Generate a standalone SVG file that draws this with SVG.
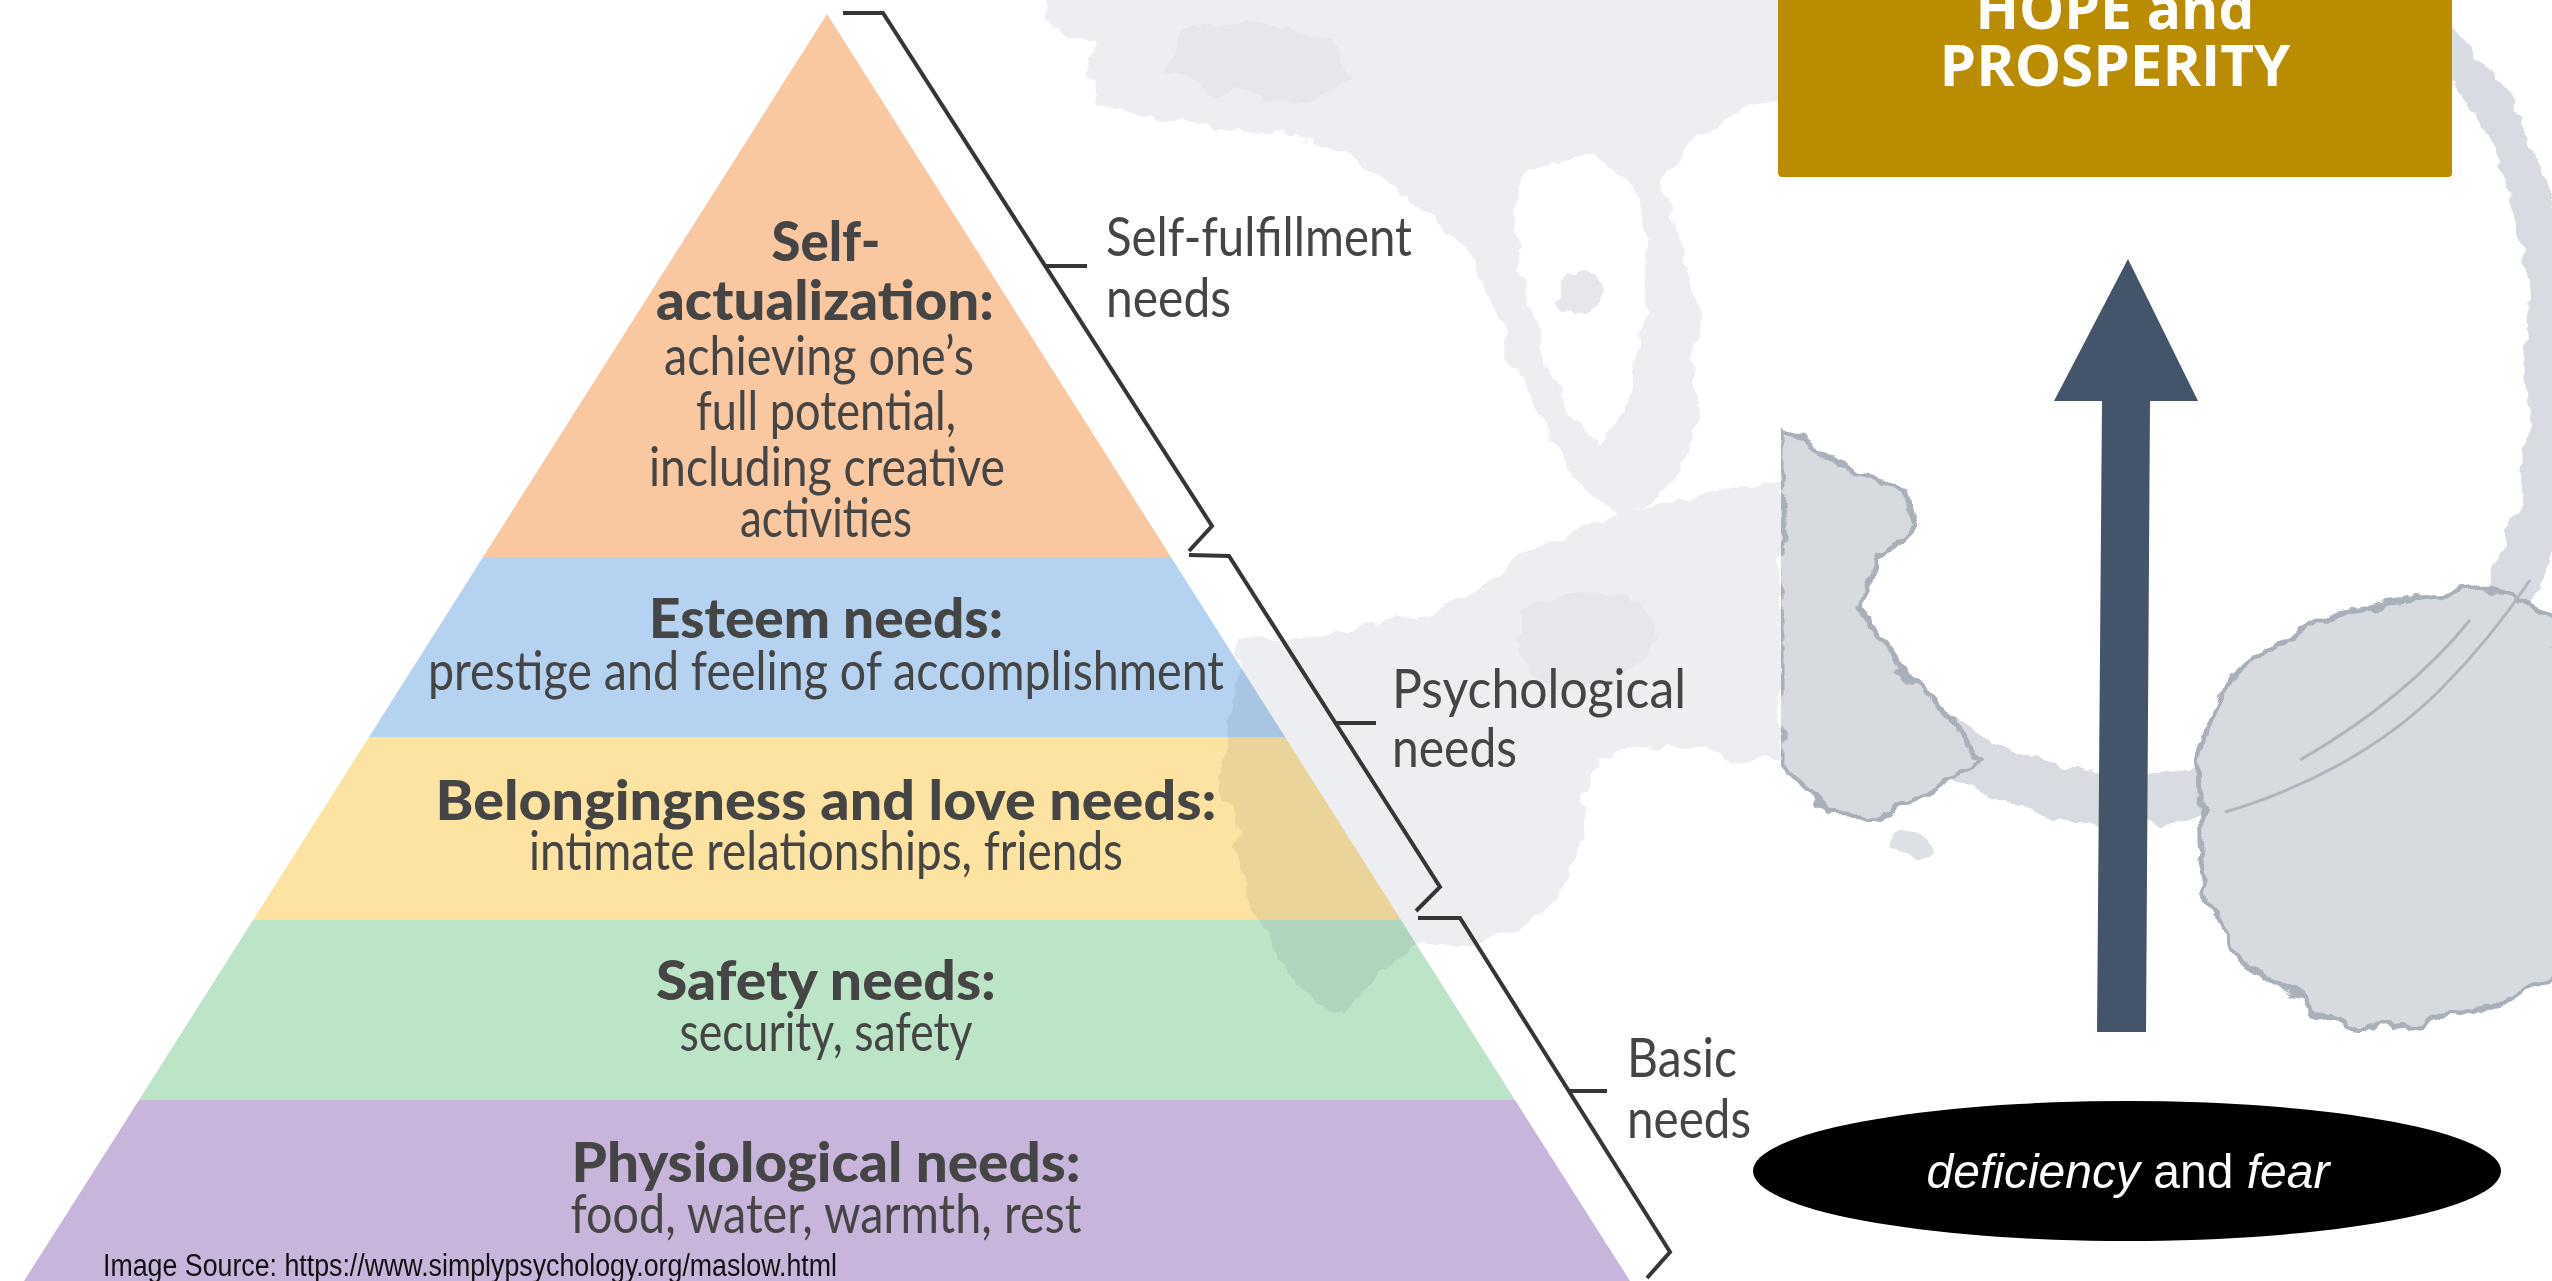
<svg xmlns="http://www.w3.org/2000/svg" width="2552" height="1281" viewBox="0 0 2552 1281">
  <defs>
    <style>
      .band-text { font-family: Lato, "Noto Sans", "DejaVu Sans", sans-serif; fill: #454545; text-anchor: middle; font-size: 54px; }
      .head { font-weight: 900; font-size: 55px; }
      .side { font-family: Lato, "Noto Sans", "DejaVu Sans", sans-serif; fill: #454545; font-size: 54px; }
      .bracket { fill: none; stroke: #363636; stroke-width: 4; stroke-linejoin: miter; stroke-linecap: butt; }
      .stain-light { fill: #EDEEF1; }
      .stain-dark { fill: #E5E7EB; }
      .splash { fill: #D7DBE0; stroke: #A9B0BA; stroke-width: 5; }
      .ring { fill: none; stroke: #D8DCE2; stroke-linecap: round; }
      .vein { fill: none; stroke: #AEB5BF; stroke-width: 3; }
      .goal { font-family: "Open Sans", "Liberation Sans", sans-serif; font-weight: 700; font-size: 57px; fill: #FFFFFF; text-anchor: middle; }
      .base { font-family: "Liberation Sans", Arial, sans-serif; font-size: 48px; fill: #FFFFFF; text-anchor: middle; }
      .source { font-family: "Liberation Sans Narrow", "Liberation Sans", Arial, sans-serif; font-size: 31px; fill: #111111; }
    </style>
    <filter id="rough" x="-10%" y="-10%" width="120%" height="120%">
      <feTurbulence type="fractalNoise" baseFrequency="0.035" numOctaves="3" seed="7" result="noise"/>
      <feDisplacementMap in="SourceGraphic" in2="noise" scale="20" xChannelSelector="R" yChannelSelector="G"/>
    </filter>
    <clipPath id="right-panel">
      <rect x="1781" y="0" width="771" height="1281"/>
    </clipPath>
  </defs>

  <!-- page -->
  <rect x="0" y="0" width="2552" height="1281" fill="#FFFFFF"/>

  <!-- pyramid levels -->
  <g id="level-self-actualization">
    <polygon points="827,14 1171,557 483,557" fill="#F9C8A0"/>
    <text class="band-text head" x="826" y="261" textLength="109" lengthAdjust="spacingAndGlyphs">Self-</text>
    <text class="band-text head" x="825" y="320" textLength="338" lengthAdjust="spacingAndGlyphs">actualization:</text>
    <text class="band-text" x="819" y="375" textLength="310" lengthAdjust="spacingAndGlyphs">achieving one’s</text>
    <text class="band-text" x="826" y="430" textLength="260" lengthAdjust="spacingAndGlyphs">full potential,</text>
    <text class="band-text" x="827" y="486" textLength="356" lengthAdjust="spacingAndGlyphs">including creative</text>
    <text class="band-text" x="826" y="537" textLength="172" lengthAdjust="spacingAndGlyphs">activities</text>
  </g>
  <g id="level-esteem">
    <polygon points="483,557 1171,557 1285,737 369,737" fill="#B5D3F1"/>
    <text class="band-text head" x="826" y="638" textLength="354" lengthAdjust="spacingAndGlyphs">Esteem needs:</text>
    <text class="band-text" x="826" y="690" textLength="796" lengthAdjust="spacingAndGlyphs">prestige and feeling of accomplishment</text>
  </g>
  <g id="level-belonging">
    <polygon points="369,737 1285,737 1401,920 253,920" fill="#FDE3A2"/>
    <text class="band-text head" x="826" y="820" textLength="781" lengthAdjust="spacingAndGlyphs">Belongingness and love needs:</text>
    <text class="band-text" x="826" y="870" textLength="594" lengthAdjust="spacingAndGlyphs">intimate relationships, friends</text>
  </g>
  <g id="level-safety">
    <polygon points="253,920 1401,920 1515,1100 139,1100" fill="#BCE5C8"/>
    <text class="band-text head" x="826" y="1000" textLength="340" lengthAdjust="spacingAndGlyphs">Safety needs:</text>
    <text class="band-text" x="826" y="1051" textLength="293" lengthAdjust="spacingAndGlyphs">security, safety</text>
  </g>
  <g id="level-physiological">
    <polygon points="139,1100 1515,1100 1630,1281 24,1281" fill="#C8B5DC"/>
    <text class="band-text head" x="826" y="1182" textLength="509" lengthAdjust="spacingAndGlyphs">Physiological needs:</text>
    <text class="band-text" x="826" y="1233" textLength="511" lengthAdjust="spacingAndGlyphs">food, water, warmth, rest</text>
  </g>

  <!-- watercolour stain behind the middle of the page -->
  <g id="stain-middle" filter="url(#rough)" style="mix-blend-mode: multiply">
    <path class="stain-light" fill-rule="evenodd" d="M1040,-60 L1046,0 L1044,22 L1088,42 L1094,96 L1140,116 L1215,126 L1300,136 L1360,165 L1402,196 L1440,222 L1470,252 L1490,300 L1506,352 L1530,402 L1560,452 L1590,498 L1622,516 L1655,500 L1682,468 L1700,420 L1692,380 L1700,330 L1692,280 L1672,230 L1664,180 L1692,140 L1740,110 L1781,96 L1781,-60 Z M1522,172 L1590,152 L1636,192 L1648,262 L1640,340 L1626,410 L1600,448 L1574,420 L1548,370 L1528,300 L1514,230 Z"/>
    <path class="stain-light" d="M1232,700 L1238,642 L1300,640 L1360,628 L1410,620 L1452,600 L1490,584 L1520,556 L1560,540 L1600,520 L1650,505 L1700,494 L1781,480 L1781,760 L1740,760 L1700,750 L1640,745 L1602,760 L1580,800 L1585,840 L1560,900 L1515,932 L1460,948 L1420,945 L1400,955 L1373,980 L1352,995 L1345,1012 L1327,1014 L1300,985 L1272,955 L1258,925 L1245,885 L1237,835 L1220,788 L1228,740 Z"/>
    <path class="stain-dark" d="M1180,30 L1260,20 L1330,40 L1350,80 L1300,100 L1220,92 L1170,70 Z"/>
    <path class="stain-dark" d="M1520,610 L1580,590 L1640,600 L1660,640 L1620,680 L1560,690 L1520,660 Z"/>
    <circle cx="1582" cy="292" r="22" class="stain-dark"/>
  </g>

  <!-- brackets grouping the levels -->
  <g id="connectors">
    <polyline class="bracket" points="843,13 883,13 1212,526 1189,551"/>
    <line class="bracket" x1="1046" y1="266" x2="1087" y2="266"/>
    <polyline class="bracket" points="1189,555 1229,556 1440,887 1416,911"/>
    <line class="bracket" x1="1336" y1="723" x2="1376" y2="723"/>
    <polyline class="bracket" points="1418,918 1460,918 1670,1252 1647,1278"/>
    <line class="bracket" x1="1568" y1="1091" x2="1607" y2="1091"/>
  </g>

  <g id="label-self-fulfillment">
    <text class="side" x="1106" y="256" textLength="306" lengthAdjust="spacingAndGlyphs">Self-fulfillment</text>
    <text class="side" x="1106" y="317" textLength="125" lengthAdjust="spacingAndGlyphs">needs</text>
  </g>
  <g id="label-psychological">
    <text class="side" x="1392" y="708" textLength="294" lengthAdjust="spacingAndGlyphs">Psychological</text>
    <text class="side" x="1392" y="767" textLength="125" lengthAdjust="spacingAndGlyphs">needs</text>
  </g>
  <g id="label-basic">
    <text class="side" x="1627" y="1077" textLength="110" lengthAdjust="spacingAndGlyphs">Basic</text>
    <text class="side" x="1627" y="1138" textLength="124" lengthAdjust="spacingAndGlyphs">needs</text>
  </g>

  <g id="image-source">
    <text class="source" x="103" y="1276" textLength="734" lengthAdjust="spacingAndGlyphs">Image Source: https://www.simplypsychology.org/maslow.html</text>
  </g>

  <!-- right panel with the coffee-ring stain -->
  <g id="ring-stain">
    <rect x="1781" y="0" width="771" height="1281" fill="#FFFFFF"/>
    <g clip-path="url(#right-panel)">
      <g filter="url(#rough)">
        <path class="ring" stroke-width="50" d="M1790,560 C1860,690 1950,770 2060,792 C2170,812 2290,785 2380,730 C2460,680 2510,610 2535,530"/>
        <path class="ring" stroke-width="36" d="M2440,40 C2500,100 2530,170 2542,260 C2550,350 2548,440 2535,530"/>
        <path class="splash" d="M1781,430 L1850,470 L1905,490 L1915,525 L1880,560 L1862,610 L1895,660 L1950,720 L1980,760 L1935,790 L1880,815 L1830,812 L1781,762 Z"/>
        <path class="splash" d="M2199,792 C2195,740 2215,690 2245,668 C2270,640 2300,628 2330,615 C2380,600 2420,598 2460,592 C2500,585 2530,600 2560,620 L2560,975 C2530,990 2500,1005 2460,1015 C2420,1025 2380,1030 2350,1025 C2310,1012 2270,985 2240,955 C2210,925 2203,880 2200,840 Z"/>
        <ellipse cx="1912" cy="846" rx="22" ry="12" fill="#DDE0E5"/>
      </g>
      <path class="vein" d="M2225,812 C2300,790 2380,750 2440,690 C2480,650 2510,610 2530,580"/>
      <path class="vein" d="M2300,760 C2370,720 2430,670 2470,620"/>
    </g>
  </g>

  <g id="goal-box">
    <rect x="1778" y="-10" width="674" height="187" rx="4" fill="#BA8C00"/>
    <text class="goal" x="2115" y="29" textLength="279" lengthAdjust="spacingAndGlyphs">HOPE and</text>
    <text class="goal" x="2115" y="86" textLength="351" lengthAdjust="spacingAndGlyphs">PROSPERITY</text>
  </g>

  <g id="rise-arrow">
    <polygon points="2128,259 2198,401 2150,401 2146,1032 2097,1032 2102,401 2054,401" fill="#44546A"/>
  </g>

  <g id="base-ellipse">
    <ellipse cx="2127" cy="1171" rx="374" ry="70" fill="#000000"/>
    <text class="base" x="2128" y="1188" textLength="403" lengthAdjust="spacingAndGlyphs"><tspan font-style="italic">deficiency</tspan> and <tspan font-style="italic">fear</tspan></text>
  </g>
</svg>
